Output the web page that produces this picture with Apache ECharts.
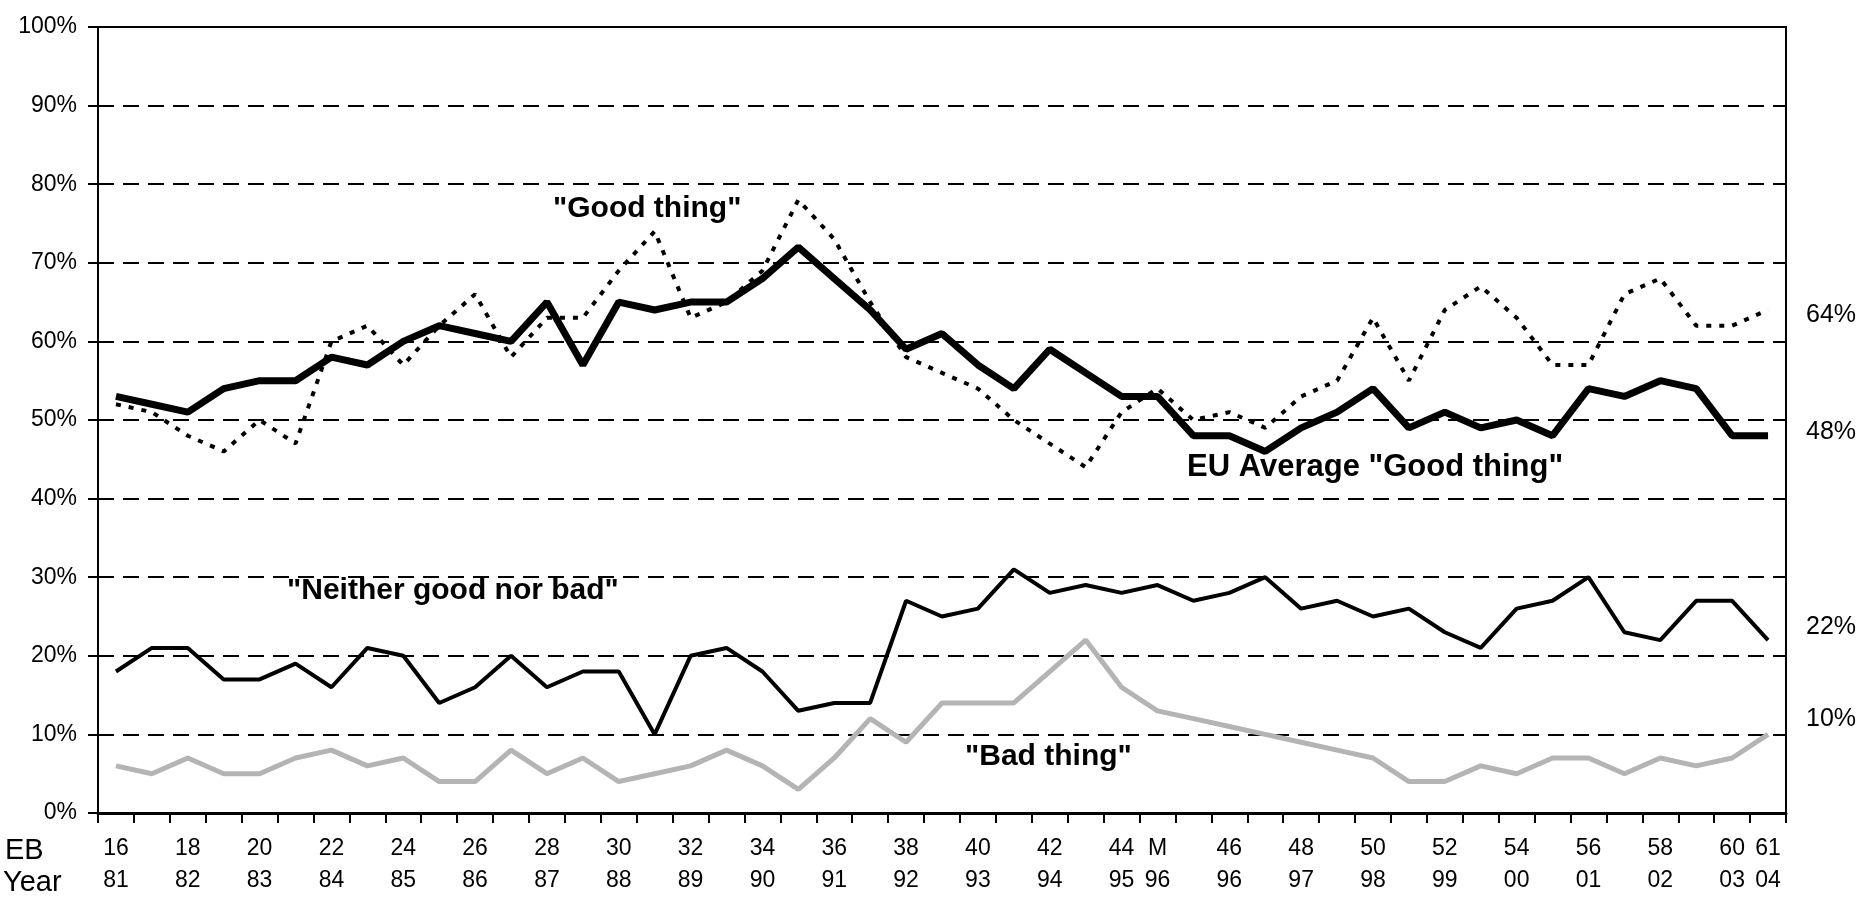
<!DOCTYPE html>
<html>
<head>
<meta charset="utf-8">
<script src="https://cdn.jsdelivr.net/npm/echarts@6/dist/echarts.min.js"></script>
<style>
  html, body { margin: 0; padding: 0; background: #fff; }
  #chart { width: 1856px; height: 897px; }
</style>
</head>
<body>
<div id="chart"></div>
<script>
// Eurobarometer waves (EB 16 .. 61, with the 1996 "M" survey after EB 44)
const waves = ['16','17','18','19','20','21','22','23','24','25','26','27','28','29','30','31','32','33','34','35',
  '36','37','38','39','40','41','42','43','44','M','45','46','47','48','49','50','51','52','53','54','55',
  '56','57','58','59','60','61']
const years = ['81','82','82','83','83','84','84','85','85','86','86','87','87','88','88','89','89','90','90','91',
  '91','92','92','93','93','94','94','95','95','96','96','96','97','97','98','98','99','99','00','00','01',
  '01','02','02','03','03','04']

// percentages
const goodThing = [52,51,48,46,50,47,60,62,57,62,66,58,63,63,69,74,63,65,69,78,73,65,58,56,54,50,47,44,51,54,
  50,51,49,53,55,63,55,64,67,63,57,57,66,68,62,62,64]
const euAverage = [53,52,51,54,55,55,58,57,60,62,61,60,65,57,65,64,65,65,68,72,68,64,59,61,57,54,59,56,53,53,
  48,48,46,49,51,54,49,51,49,50,48,54,53,55,54,48,48]
const neither = [18,21,21,17,17,19,16,21,20,14,16,20,16,18,18,10,20,21,18,13,14,14,27,25,26,31,28,29,28,29,
  27,28,30,26,27,25,26,23,21,26,27,30,23,22,27,27,22]
const badThing = [6,5,7,5,5,7,8,6,7,4,4,8,5,7,4,5,6,8,6,3,7,12,9,14,14,14,18,22,16,13,
  12,11,10,9,8,7,4,4,6,5,7,7,5,7,6,7,10]

const FONT = "'Liberation Sans', Arial, sans-serif"

// which category labels are written under the axis
function showLabel(i) {
    if (i <= 28) return i % 2 === 0
    if (i === 29) return true
    if (i === waves.length - 1) return true
    return i >= 31 && i % 2 === 1
}

const chart = echarts.init(document.getElementById('chart'), null, {renderer: 'canvas'})

function endLabel(dy) {
    return {
        show: true,
        formatter: p => p.value + '%',
        distance: 38,
        offset: [0, dy],
        color: '#000',
        fontFamily: FONT,
        fontSize: 25
    }
}

const option = {
    animation: false,
    backgroundColor: '#fff',
    grid: {
        left: 98, right: 70, top: 27, bottom: 83,
        show: true,
        borderColor: '#000',
        borderWidth: 2
    },
    xAxis: {
        type: 'category',
        data: waves,
        boundaryGap: true,
        axisLine: {lineStyle: {color: '#000', width: 3}},
        axisTick: {show: true, interval: 0, length: 10, lineStyle: {color: '#000', width: 2}},
        axisLabel: {
            interval: showLabel,
            margin: 20,
            color: '#000',
            fontFamily: FONT,
            fontSize: 23,
            lineHeight: 32,
            formatter: (val, i) => val + '\n' + years[i]
        },
        splitLine: {show: false}
    },
    yAxis: {
        type: 'value',
        min: 0, max: 100, interval: 10,
        axisLine: {show: true, lineStyle: {color: '#000', width: 2}},
        axisTick: {show: true, length: 10, lineStyle: {color: '#000', width: 2}},
        axisLabel: {
            margin: 21,
            color: '#000',
            fontFamily: FONT,
            fontSize: 23,
            formatter: '{value}%'
        },
        splitLine: {
            show: true,
            showMinLine: false,
            showMaxLine: false,
            lineStyle: {color: '#000', width: 2, type: [16, 9]}
        }
    },
    series: [
        {
            name: 'Bad thing',
            type: 'line',
            data: badThing,
            symbol: 'none',
            lineStyle: {color: '#b4b4b4', width: 5},
            endLabel: endLabel(-15)
        },
        {
            name: 'Neither good nor bad',
            type: 'line',
            data: neither,
            symbol: 'none',
            lineStyle: {color: '#000', width: 4},
            endLabel: endLabel(-13)
        },
        {
            name: 'Good thing',
            type: 'line',
            data: goodThing,
            symbol: 'none',
            lineStyle: {color: '#000', width: 4, type: [5, 8]},
            endLabel: endLabel(5)
        },
        {
            name: 'EU Average "Good thing"',
            type: 'line',
            data: euAverage,
            symbol: 'none',
            lineStyle: {color: '#000', width: 7},
            endLabel: endLabel(-4)
        }
    ],
    graphic: [
        {type: 'text', left: 5, top: 836, style: {text: 'EB', font: '29px ' + FONT, fill: '#000'}},
        {type: 'text', left: 3, top: 868, style: {text: 'Year', font: '29px ' + FONT, fill: '#000'}},
        {type: 'text', left: 553, top: 194, style: {text: '"Good thing"', font: 'bold 30px ' + FONT, fill: '#000'}},
        {type: 'text', left: 1187, top: 452, style: {text: 'EU Average "Good thing"', font: 'bold 31px ' + FONT, fill: '#000'}},
        {type: 'text', left: 287, top: 576, style: {text: '"Neither good nor bad"', font: 'bold 30px ' + FONT, fill: '#000'}},
        {type: 'text', left: 965, top: 742, style: {text: '"Bad thing"', font: 'bold 30px ' + FONT, fill: '#000'}}
    ]
}

chart.setOption(option)
</script>
</body>
</html>
